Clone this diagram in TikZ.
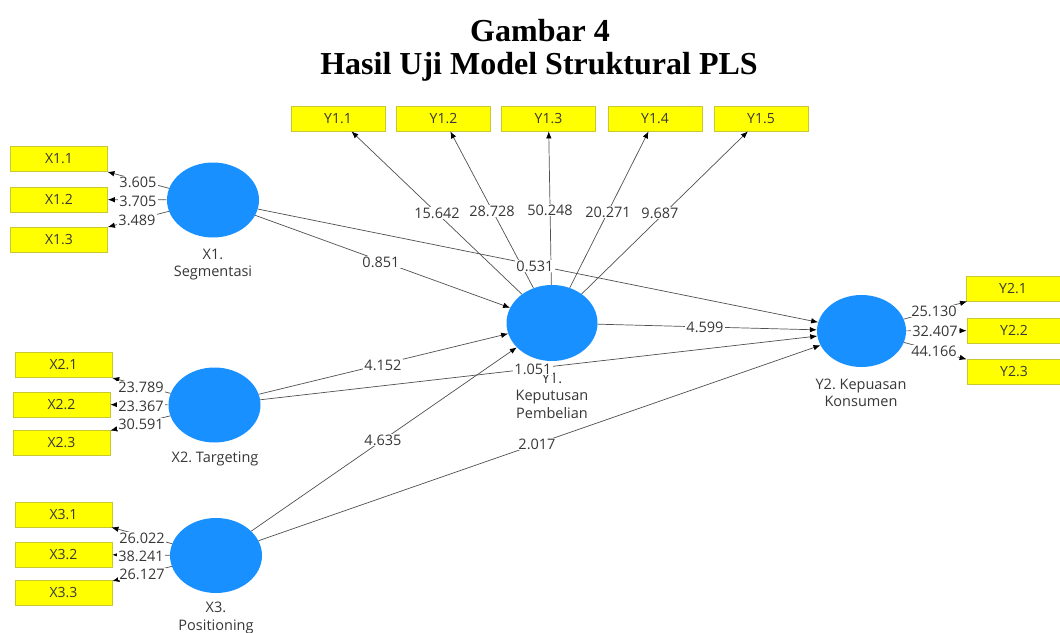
\documentclass[tikz,border=0pt]{standalone}
\usepackage{fontspec}
\setmainfont{Open Sans}
\newfontfamily\titlefont{Liberation Serif}
\usetikzlibrary{shapes.geometric,arrows.meta}
\definecolor{latblue}{RGB}{24,144,255}
\definecolor{boxyel}{RGB}{255,255,0}
\definecolor{boxedge}{RGB}{200,200,50}
\definecolor{txtgray}{RGB}{55,55,55}
\definecolor{linegray}{RGB}{80,80,80}
\frenchspacing
\begin{document}
\begin{tikzpicture}[x=1pt,y=-1pt,
 lat/.style={ellipse, fill=latblue, draw=none, minimum width=92pt, minimum height=75pt, inner sep=0pt},
 ind/.style={rectangle, fill=boxyel, draw=boxedge, line width=0.8pt, minimum width=97pt, minimum height=25pt, inner sep=0pt, text=txtgray, font=\fontsize{14}{16}\selectfont},
 yind/.style={ind, minimum width=94pt},
 lab/.style={text=txtgray, font=\fontsize{14.5}{17.5}\selectfont, align=center, inner sep=0pt},
 val/.style={fill=white, text=txtgray, font=\fontsize{14.5}{17}\selectfont, inner sep=1pt},
 con/.style={draw=linegray, line width=0.7pt, -{Latex[length=7pt,width=5.5pt,color=black]}},
 ttl/.style={font=\titlefont\bfseries\fontsize{32}{36}\selectfont, inner sep=0pt, anchor=base}
]
\useasboundingbox (0,0) rectangle (1060,632);
\fill[white] (0,0) rectangle (1060,632);

% title
\node[ttl] (t1) at (540,41) {Gambar 4};
\node[ttl] (t2) at (539,74) {Hasil Uji Model Struktural PLS};

% latent variables
\node[lat] (X1) at (213,200) {};
\node[lat] (X2) at (214.5,405) {};
\node[lat] (X3) at (216,555.5) {};
\node[lat, minimum width=91pt, minimum height=76pt] (Y1) at (552,323) {};
\node[lat, minimum width=89pt, minimum height=72pt] (Y2) at (861.5,331) {};

% latent labels
\node[lab] (X1t) at (213,264.5) {X1.\\Segmentasi};
\node[lab] (X2t) at (215,459) {X2. Targeting};
\node[lab] (X3t) at (216,618) {X3.\\Positioning};
\node[lab] (Y1t) at (552,395.5) {Y1.\\Keputusan\\Pembelian};
\node[lab] (Y2t) at (861,393) {Y2. Kepuasan\\Konsumen};

% indicators
\node[ind] (X11) at (59,159) {X1.1};
\node[ind] (X12) at (59,199.5) {X1.2};
\node[ind] (X13) at (59,239.5) {X1.3};
\node[ind] (X21) at (63.5,365) {X2.1};
\node[ind] (X22) at (61.5,404.5) {X2.2};
\node[ind] (X23) at (61.5,442.5) {X2.3};
\node[ind] (X31) at (63.5,514.5) {X3.1};
\node[ind] (X32) at (63.5,554.5) {X3.2};
\node[ind] (X33) at (63.5,593) {X3.3};
\node[yind] (Y11) at (338,118.5) {Y1.1};
\node[yind] (Y12) at (443.5,118.5) {Y1.2};
\node[yind] (Y13) at (548.5,118.5) {Y1.3};
\node[yind] (Y14) at (655,118.5) {Y1.4};
\node[yind] (Y15) at (761,118.5) {Y1.5};
\node[yind] (Y21) at (1013,288.5) {Y2.1};
\node[yind] (Y22) at (1014,330.5) {Y2.2};
\node[yind] (Y23) at (1014,372) {Y2.3};

% outer loadings
\foreach \a/\b in {X1/X11,X1/X12,X1/X13,X2/X21,X2/X22,X2/X23,X3/X31,X3/X32,X3/X33,
                   Y1/Y11,Y1/Y12,Y1/Y13,Y1/Y14,Y1/Y15,Y2/Y21,Y2/Y22,Y2/Y23}
  \draw[con] (\a) -- (\b);

% structural paths
\foreach \a/\b in {X1/Y1,X1/Y2,X2/Y1,X2/Y2,X3/Y1,X3/Y2,Y1/Y2}
  \draw[con] (\a) -- (\b);

% values
\node[val] (v1) at (138,182) {3.605};
\node[val] (v2) at (138,201.5) {3.705};
\node[val] (v3) at (137,220) {3.489};
\node[val] (v4) at (141,387) {23.789};
\node[val] (v5) at (141,406) {23.367};
\node[val] (v6) at (141,424) {30.591};
\node[val] (v7) at (142,538) {26.022};
\node[val] (v8) at (141,556) {38.241};
\node[val] (v9) at (142,574) {26.127};
\node[val] (v10) at (437,213) {15.642};
\node[val] (v11) at (492,211) {28.728};
\node[val] (v12) at (550,210) {50.248};
\node[val] (v13) at (608,212) {20.271};
\node[val] (v14) at (660,213) {9.687};
\node[val] (v15) at (381,262) {0.851};
\node[val] (v16) at (535,266) {0.531};
\node[val] (v17) at (383,365) {4.152};
\node[val] (v18) at (533,369) {1.051};
\node[val] (v19) at (383,440) {4.635};
\node[val] (v20) at (537,444) {2.017};
\node[val] (v21) at (705,327) {4.599};
\node[val] (v22) at (934,311) {25.130};
\node[val] (v23) at (935,331) {32.407};
\node[val] (v24) at (934,351) {44.166};
\end{tikzpicture}
\end{document}
